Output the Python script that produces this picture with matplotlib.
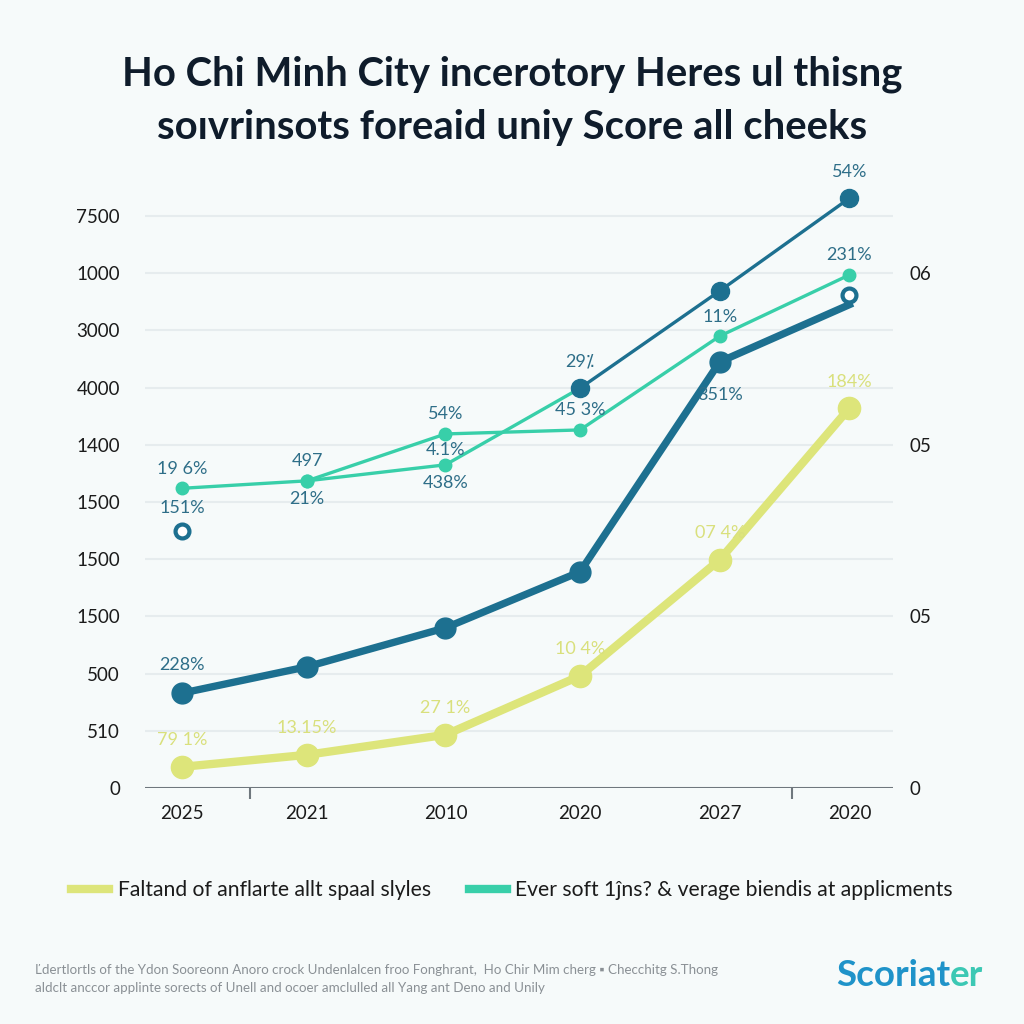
import matplotlib
matplotlib.use('Agg')
import matplotlib.pyplot as plt
import numpy as np
from matplotlib.lines import Line2D

# ---------------- data ----------------
categories = ['2025', '2021', '2010', '2020', '2027', '2020']
y_tick_labels = ['0', '510', '500', '1500', '1500', '1500', '1400', '4000', '3000', '1000', '7500']
right_tick_values = [0, 3, 6, 9]
right_tick_labels = ['0', '05', '05', '06']

nan = np.nan
upper_dark = [nan, nan, nan, 6.99, 8.69, 10.31]
upper_dark_above = [None, None, None, '29⁒', None, '54%']

teal_a = [5.24, 5.37, 6.19, 6.26, 7.90, 8.97]
teal_a_above = ['19 6%', '497', '54%', '45 3%', '11%', '231%']

teal_b = [nan, 5.37, 5.65, 6.99, nan, nan]
teal_b_above = [None, None, '4.1%', None, None, None]
teal_b_below = [None, '21%', '438%', None, None, None]

thick_dark = [1.66, 2.12, 2.80, 3.78, 7.45, 8.45]
thick_dark_above = ['228%', None, None, None, None, None]
thick_dark_below = [None, None, None, None, '351%', None]

open_points = [4.49, nan, nan, nan, nan, 8.62]
open_points_above = ['151%', None, None, None, None, None]

yellow = [0.37, 0.58, 0.93, 1.96, 3.99, 6.64]
yellow_above = ['79 1%', '13.15%', '27 1%', '10 4%', '07 4%', '184%']

legend_labels = ['Faltand of anflarte allt spaal slyles',
                 'Ever soft 1ĵns? & verage biendis at applicments']

title_lines = ['Ho Chi Minh City incerotory Heres ul thisng',
               'soıvrinsots foreaid uniy Score all cheeks']
footer_lines = ['Ľdertlortls of the Ydon Sooreonn Anoro crock Undenlalcen froo Fonghrant,  Ho Chir Mim cherg ▪ Checchitg S.Thong',
                'aldclt anccor applinte sorects of Unell and ocoer amclulled all Yang ant Deno and Unily']

# ---------------- style ----------------
BG = '#f6fafa'
DARK = '#1d7090'
TEAL = '#38cfa9'
YEL = '#dde57a'
LBL = '#2e6e88'
YLBL = '#d9e07c'
FONT = ['Lato', 'DejaVu Sans']
plt.rcParams['font.family'] = FONT

xpos = [0.30, 1.30, 2.41, 3.49, 4.61, 5.65]

fig = plt.figure(figsize=(10.24, 10.24), dpi=100, facecolor=BG)
ax = fig.add_axes([145 / 1024, 236 / 1024, 748 / 1024, 629.2 / 1024], facecolor=BG)
ax.set_xlim(0, 6)
ax.set_ylim(0, 11)

ax.set_yticks(range(11))
ax.set_yticklabels(y_tick_labels, fontsize=13.5, color='#1b1b1b')
ax.tick_params(axis='y', length=0, pad=18)
ax.yaxis.grid(True, color='#e6ecee', lw=1.5)
ax.set_axisbelow(True)
ax.set_xticks(xpos)
ax.set_xticklabels(categories, fontsize=13.5, color='#1b1b1b')
ax.tick_params(axis='x', which='major', length=0, pad=12)
ax.set_xticks([0.84, 5.19], minor=True)
ax.tick_params(axis='x', which='minor', length=8, width=1.5, color='#6f777d')
for s in ax.spines.values():
    s.set_visible(False)
ax.axhline(0, color='#6f777d', lw=2.2, zorder=1)

ax2 = ax.twinx()
ax2.set_ylim(0, 11)
ax2.set_yticks(right_tick_values)
ax2.set_yticklabels(right_tick_labels, fontsize=13.5, color='#1b1b1b')
ax2.tick_params(axis='y', length=0, pad=12)
for s in ax2.spines.values():
    s.set_visible(False)

# lines
ax.plot(xpos, yellow, color=YEL, lw=6, marker='o', ms=16, zorder=3, solid_capstyle='round')
ax.plot(xpos, thick_dark, color=DARK, lw=5.3, marker='o', ms=15, markevery=[0, 1, 2, 3, 4], zorder=4)
ax.plot(xpos, teal_a, color=TEAL, lw=2.4, marker='o', ms=9, zorder=5)
ax.plot(xpos, teal_b, color=TEAL, lw=2.4, marker='o', ms=9, zorder=5)
ax.plot(xpos, upper_dark, color=DARK, lw=2.4, marker='o', ms=13, zorder=6)
ax.plot(xpos, open_points, ls='none', marker='o', ms=10, mfc='white', mec=DARK, mew=3, zorder=7)


def annotate(values, labels, dy, color):
    for x, v, t in zip(xpos, values, labels):
        if t is None or np.isnan(v):
            continue
        ax.annotate(t, (x, v), xytext=(0, dy), textcoords='offset points',
                    ha='center', va='center', fontsize=13, color=color, zorder=8)


annotate(upper_dark, upper_dark_above, 19, LBL)
annotate(teal_a, teal_a_above, 14, LBL)
annotate(teal_b, teal_b_above, 11, LBL)
annotate(teal_b, teal_b_below, -13, LBL)
annotate(thick_dark, thick_dark_above, 20, LBL)
annotate(thick_dark, thick_dark_below, -24, LBL)
annotate(open_points, open_points_above, 17, LBL)
annotate(yellow, yellow_above, 19, YLBL)

# title
fig.text(0.5, 1 - 74 / 1024, title_lines[0], ha='center', va='center',
         fontsize=28.8, fontweight='bold', color='#0f1c2b')
fig.text(0.5, 1 - 127 / 1024, title_lines[1], ha='center', va='center',
         fontsize=28.8, fontweight='bold', color='#0f1c2b')

# legend
handles = [Line2D([], [], color=YEL, lw=6), Line2D([], [], color=TEAL, lw=6)]
fig.legend(handles, legend_labels, loc='center', bbox_to_anchor=(0.5, 1 - 890 / 1024),
           ncol=2, frameon=False, fontsize=15.2, handlelength=1.8, handletextpad=0.4,
           columnspacing=1.8, labelcolor='#1b1b1b')

# footer
fig.text(35 / 1024, 1 - 970 / 1024, footer_lines[0], ha='left', va='center',
         fontsize=9.6, color='#8a9095')
fig.text(35 / 1024, 1 - 988 / 1024, footer_lines[1], ha='left', va='center',
         fontsize=9.6, color='#8a9095')

# logo
fig.text(950 / 1024, 1 - 975 / 1024, 'Scoriat', ha='right', va='center',
         fontsize=26.5, fontweight='bold', color='#1f93c9')
fig.text(950 / 1024, 1 - 975 / 1024, 'er', ha='left', va='center',
         fontsize=26.5, fontweight='bold', color='#3cc8b4')

fig.savefig('out.png', dpi=100, facecolor=BG)
